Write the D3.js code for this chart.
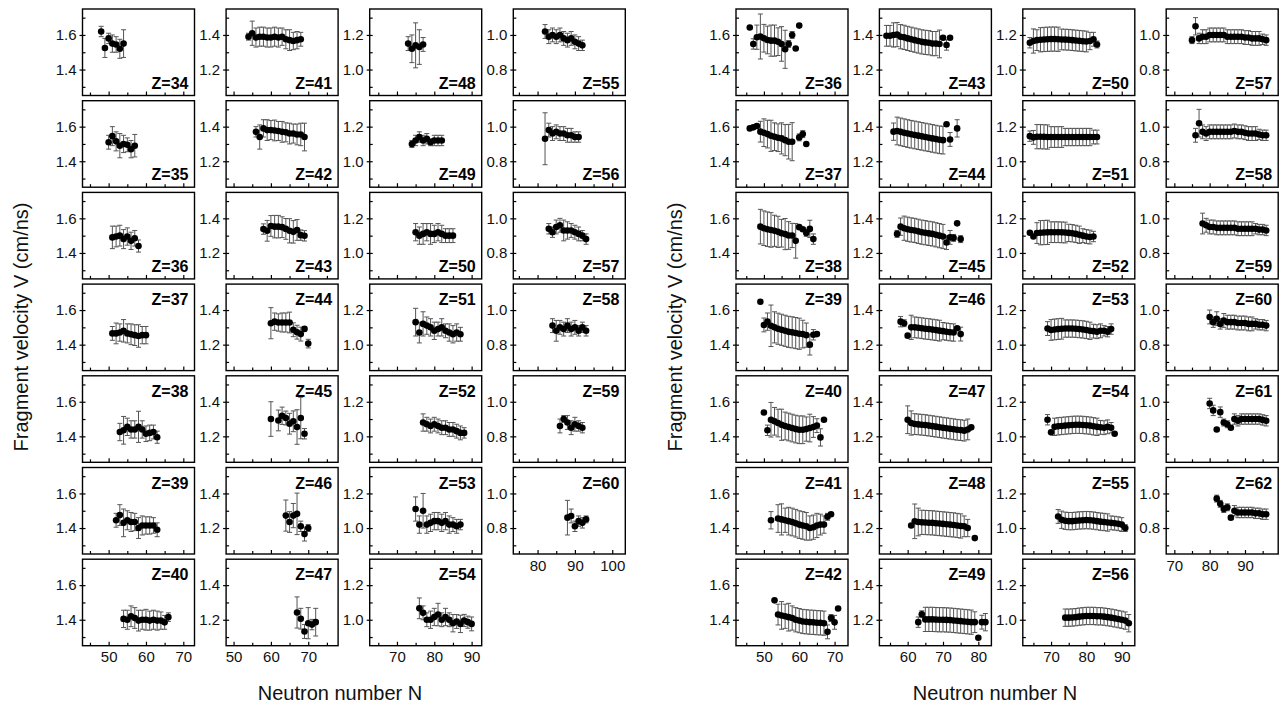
<!DOCTYPE html>
<html><head><meta charset="utf-8">
<script src="https://cdn.jsdelivr.net/npm/d3@7"></script>
<style>body{margin:0;background:#fff} text{font-family:"Liberation Sans",Arial,sans-serif}</style>
</head><body>
<svg id="c" width="1279" height="708"></svg>
<script>
// ---- data: each entry [N, V, error] ----
// Left figure
const L34=[[48,1.62,0.03],[49,1.525,0.055],[50,1.58,0.03],[51,1.55,0.05],[52,1.545,0.045],[53,1.52,0.055],[54,1.55,0.08]];
const L35=[[50,1.51,0.04],[51,1.545,0.055],[52,1.515,0.055],[53,1.49,0.07],[54,1.5,0.05],[55,1.495,0.04],[56,1.47,0.05],[57,1.49,0.065]];
const L36=[[51,1.49,0.065],[52,1.495,0.06],[53,1.5,0.06],[54,1.48,0.055],[55,1.495,0.05],[56,1.47,0.05],[57,1.485,0.045],[58,1.44,0.035]];
const L37=[[51,1.465,0.04],[52,1.465,0.06],[53,1.47,0.05],[54,1.48,0.065],[55,1.465,0.055],[56,1.46,0.06],[57,1.455,0.06],[58,1.45,0.065],[59,1.455,0.05],[60,1.455,0.05]];
const L38=[[53,1.425,0.05],[54,1.435,0.08],[55,1.455,0.05],[56,1.44,0.05],[57,1.44,0.05],[58,1.455,0.09],[59,1.44,0.05],[60,1.415,0.045],[61,1.42,0.045],[62,1.425,0.04],[63,1.395,0.035]];
const L39=[[52,1.445,0.04],[53,1.475,0.06],[54,1.43,0.08],[55,1.445,0.055],[56,1.435,0.055],[57,1.435,0.05],[58,1.4,0.06],[59,1.415,0.055],[60,1.415,0.05],[61,1.415,0.05],[62,1.415,0.045],[63,1.39,0.04]];
const L40=[[54,1.405,0.05],[55,1.4,0.055],[56,1.42,0.06],[57,1.41,0.06],[58,1.395,0.06],[59,1.4,0.055],[60,1.4,0.06],[61,1.395,0.055],[62,1.4,0.055],[63,1.395,0.055],[64,1.395,0.05],[65,1.385,0.04],[66,1.415,0.025]];
const L41=[[54,1.39,0.02],[55,1.41,0.07],[56,1.385,0.055],[57,1.39,0.055],[58,1.39,0.055],[59,1.385,0.055],[60,1.385,0.055],[61,1.39,0.055],[62,1.385,0.055],[63,1.39,0.05],[64,1.375,0.055],[65,1.37,0.06],[66,1.365,0.05],[67,1.37,0.05],[68,1.375,0.04]];
const L42=[[56,1.37,0.03],[57,1.34,0.07],[58,1.39,0.05],[59,1.38,0.06],[60,1.38,0.055],[61,1.378,0.06],[62,1.375,0.055],[63,1.37,0.06],[64,1.367,0.055],[65,1.36,0.06],[66,1.36,0.055],[67,1.355,0.06],[68,1.355,0.065],[69,1.34,0.08]];
const L43=[[58,1.338,0.03],[59,1.328,0.06],[60,1.356,0.06],[61,1.352,0.065],[62,1.352,0.065],[63,1.349,0.06],[64,1.339,0.06],[65,1.328,0.07],[66,1.322,0.065],[67,1.333,0.06],[68,1.303,0.03],[69,1.299,0.03]];
const L44=[[60,1.324,0.09],[61,1.333,0.05],[62,1.328,0.05],[63,1.328,0.055],[64,1.328,0.055],[65,1.328,0.06],[66,1.286,0.04],[67,1.272,0.04],[68,1.261,0.04],[69,1.291,0.012],[70,1.206,0.025]];
const L45=[[60,1.3,0.1],[62,1.292,0.06],[63,1.319,0.05],[64,1.306,0.04],[65,1.273,0.06],[66,1.287,0.06],[67,1.254,0.1],[68,1.306,0.12],[69,1.215,0.03]];
const L46=[[64,1.272,0.09],[65,1.235,0.06],[66,1.272,0.07],[67,1.282,0.12],[68,1.21,0.03],[69,1.165,0.04],[70,1.2,0.02]];
const L47=[[67,1.242,0.09],[68,1.206,0.06],[69,1.132,0.04],[70,1.18,0.09],[71,1.172,0.03],[72,1.186,0.08]];
const L48=[[73,1.15,0.04],[74,1.12,0.08],[75,1.14,0.13],[76,1.13,0.1],[77,1.145,0.04]];
const L49=[[74,1.1,0.02],[75,1.12,0.03],[76,1.14,0.03],[77,1.12,0.03],[78,1.13,0.03],[79,1.11,0.02],[80,1.12,0.03],[81,1.12,0.03],[82,1.12,0.03]];
const L50=[[75,1.12,0.05],[76,1.1,0.05],[77,1.11,0.06],[78,1.12,0.05],[79,1.11,0.06],[80,1.11,0.05],[81,1.12,0.05],[82,1.11,0.05],[83,1.1,0.04],[84,1.1,0.04],[85,1.1,0.04]];
const L51=[[75,1.13,0.08],[76,1.07,0.06],[77,1.12,0.07],[78,1.11,0.05],[79,1.1,0.05],[80,1.08,0.05],[81,1.09,0.04],[82,1.1,0.05],[83,1.08,0.04],[84,1.07,0.05],[85,1.06,0.05],[86,1.07,0.05],[87,1.06,0.04]];
const L52=[[77,1.08,0.05],[78,1.07,0.04],[79,1.06,0.04],[80,1.07,0.04],[81,1.06,0.04],[82,1.05,0.04],[83,1.05,0.04],[84,1.04,0.04],[85,1.04,0.04],[86,1.03,0.04],[87,1.02,0.04],[88,1.02,0.03]];
const L53=[[75,1.11,0.07],[76,1.02,0.05],[77,1.1,0.1],[78,1.02,0.05],[79,1.03,0.05],[80,1.04,0.05],[81,1.04,0.05],[82,1.03,0.05],[83,1.04,0.05],[84,1.02,0.05],[85,1.02,0.04],[86,1.01,0.04],[87,1.02,0.03]];
const L54=[[76,1.066,0.06],[77,1.04,0.04],[78,1.0,0.04],[79,1.0,0.05],[80,1.016,0.05],[81,1.03,0.065],[82,1.0,0.04],[83,1.016,0.05],[84,1.0,0.04],[85,0.98,0.05],[86,0.99,0.04],[87,0.976,0.05],[88,0.996,0.035],[89,0.986,0.035],[90,0.976,0.04]];
const L55=[[82,1.02,0.04],[83,0.99,0.04],[84,1.0,0.04],[85,0.99,0.04],[86,1.0,0.04],[87,0.98,0.04],[88,0.97,0.04],[89,0.98,0.04],[90,0.96,0.04],[91,0.95,0.04],[92,0.94,0.03]];
const L56=[[82,0.93,0.15],[83,0.98,0.04],[84,0.96,0.04],[85,0.97,0.04],[86,0.96,0.04],[87,0.96,0.04],[88,0.95,0.04],[89,0.95,0.04],[90,0.94,0.03],[91,0.94,0.03]];
const L57=[[83,0.94,0.03],[84,0.92,0.03],[85,0.95,0.04],[86,0.96,0.04],[87,0.93,0.06],[88,0.93,0.05],[89,0.93,0.04],[90,0.92,0.04],[91,0.91,0.04],[92,0.9,0.03],[93,0.88,0.03]];
const L58=[[84,0.91,0.04],[85,0.88,0.06],[86,0.9,0.04],[87,0.89,0.04],[88,0.91,0.04],[89,0.89,0.04],[90,0.9,0.04],[91,0.88,0.03],[92,0.9,0.03],[93,0.88,0.03]];
const L59=[[86,0.86,0.04],[87,0.9,0.02],[88,0.88,0.04],[89,0.85,0.04],[90,0.87,0.04],[91,0.86,0.03],[92,0.85,0.03]];
const L60=[[88,0.86,0.1],[89,0.87,0.04],[90,0.81,0.03],[91,0.84,0.03],[92,0.83,0.03],[93,0.85,0.02]];
// Right figure
const R36=[[46,1.643,0],[47,1.548,0.03],[48,1.587,0.07],[49,1.591,0.13],[50,1.581,0.08],[51,1.571,0.08],[52,1.567,0.09],[53,1.567,0.09],[54,1.561,0.08],[55,1.548,0.1],[56,1.517,0.11],[57,1.548,0.02],[58,1.6,0.02],[59,1.522,0],[60,1.654,0]];
const R37=[[46,1.59,0.01],[47,1.596,0.01],[48,1.604,0.01],[49,1.571,0.06],[50,1.565,0.08],[51,1.557,0.08],[52,1.547,0.09],[53,1.542,0.08],[54,1.536,0.08],[55,1.532,0.09],[56,1.522,0.09],[57,1.513,0.1],[58,1.513,0.11],[60,1.538,0.02],[61,1.557,0.02],[62,1.5,0]];
const R38=[[49,1.552,0.1],[50,1.543,0.1],[51,1.537,0.1],[52,1.533,0.1],[53,1.528,0.09],[54,1.522,0.09],[55,1.514,0.08],[56,1.509,0.09],[57,1.501,0.08],[58,1.501,0.07],[59,1.47,0.1],[60,1.549,0.01],[61,1.537,0.01],[62,1.516,0.02],[63,1.539,0.05],[64,1.48,0.03]];
const R39=[[49,1.648,0],[50,1.514,0.04],[51,1.533,0.05],[52,1.509,0.12],[53,1.5,0.09],[54,1.492,0.09],[55,1.486,0.09],[56,1.48,0.09],[57,1.474,0.09],[58,1.471,0.09],[59,1.467,0.09],[60,1.463,0.09],[61,1.461,0.08],[62,1.455,0.07],[63,1.4,0.06],[64,1.457,0.03],[65,1.461,0.01]];
const R40=[[50,1.538,0],[51,1.435,0.03],[52,1.496,0.1],[53,1.487,0.08],[54,1.477,0.08],[55,1.467,0.09],[56,1.46,0.08],[57,1.454,0.08],[58,1.448,0.08],[59,1.442,0.08],[60,1.438,0.08],[61,1.438,0.08],[62,1.442,0.07],[63,1.448,0.08],[64,1.454,0.06],[65,1.462,0.04],[66,1.394,0.05],[67,1.496,0]];
const R41=[[52,1.445,0.05],[54,1.455,0.08],[55,1.45,0.09],[56,1.445,0.07],[57,1.44,0.08],[58,1.435,0.08],[59,1.428,0.08],[60,1.42,0.08],[61,1.415,0.08],[62,1.41,0.08],[63,1.4,0.07],[64,1.405,0.07],[65,1.415,0.07],[66,1.42,0.06],[67,1.42,0.05],[68,1.465,0.02],[69,1.48,0.01]];
const R42=[[53,1.512,0.01],[54,1.43,0.06],[55,1.425,0.08],[56,1.42,0.07],[57,1.415,0.08],[58,1.41,0.07],[59,1.4,0.07],[60,1.395,0.07],[61,1.39,0.07],[62,1.388,0.07],[63,1.386,0.07],[64,1.385,0.07],[65,1.383,0.07],[66,1.382,0.07],[67,1.38,0.07],[68,1.33,0.04],[69,1.41,0.02],[70,1.385,0.04],[71,1.465,0]];
const R43=[[54,1.395,0.06],[55,1.395,0.06],[56,1.4,0.07],[57,1.402,0.07],[58,1.39,0.07],[59,1.386,0.07],[60,1.38,0.07],[61,1.375,0.07],[62,1.37,0.07],[63,1.365,0.07],[64,1.36,0.07],[65,1.357,0.07],[66,1.355,0.07],[67,1.35,0.07],[68,1.35,0.07],[69,1.348,0.08],[70,1.384,0.01],[71,1.342,0.03],[72,1.384,0]];
const R44=[[56,1.371,0.05],[57,1.375,0.08],[58,1.37,0.08],[59,1.365,0.08],[60,1.36,0.08],[61,1.356,0.08],[62,1.352,0.08],[63,1.348,0.08],[64,1.344,0.08],[65,1.34,0.08],[66,1.336,0.08],[67,1.332,0.08],[68,1.328,0.08],[69,1.324,0.08],[70,1.322,0.08],[71,1.414,0],[72,1.326,0.04],[74,1.39,0.05]];
const R45=[[57,1.31,0.02],[58,1.352,0.05],[59,1.343,0.07],[60,1.337,0.07],[61,1.333,0.07],[62,1.33,0.07],[63,1.325,0.07],[64,1.32,0.07],[65,1.317,0.07],[66,1.313,0.07],[67,1.31,0.07],[68,1.305,0.07],[69,1.3,0.07],[70,1.295,0.07],[71,1.26,0.04],[72,1.29,0.04],[73,1.287,0.02],[74,1.371,0],[75,1.28,0.02]];
const R46=[[58,1.333,0.03],[59,1.324,0.02],[60,1.252,0.01],[61,1.3,0.07],[62,1.3,0.06],[63,1.298,0.06],[64,1.295,0.06],[65,1.292,0.06],[66,1.29,0.06],[67,1.287,0.06],[68,1.284,0.06],[69,1.281,0.06],[70,1.278,0.05],[71,1.275,0.05],[72,1.272,0.05],[73,1.27,0.05],[74,1.295,0.01],[75,1.261,0.04]];
const R47=[[60,1.296,0.08],[61,1.277,0.07],[62,1.271,0.06],[63,1.269,0.06],[64,1.267,0.06],[65,1.265,0.06],[66,1.262,0.06],[67,1.259,0.06],[68,1.256,0.06],[69,1.253,0.06],[70,1.25,0.06],[71,1.247,0.06],[72,1.244,0.06],[73,1.241,0.06],[74,1.238,0.06],[75,1.236,0.06],[76,1.233,0.06],[77,1.24,0.06],[78,1.252,0.01]];
const R48=[[61,1.215,0.01],[62,1.239,0.1],[63,1.235,0.08],[64,1.233,0.07],[65,1.232,0.07],[66,1.231,0.07],[67,1.23,0.07],[68,1.228,0.07],[69,1.226,0.07],[70,1.224,0.07],[71,1.222,0.07],[72,1.22,0.07],[73,1.218,0.07],[74,1.215,0.07],[75,1.212,0.07],[76,1.21,0.06],[77,1.2,0.05],[79,1.142,0]];
const R49=[[63,1.186,0.03],[64,1.232,0.02],[65,1.202,0.07],[66,1.202,0.07],[67,1.202,0.07],[68,1.201,0.07],[69,1.2,0.07],[70,1.2,0.07],[71,1.199,0.07],[72,1.198,0.07],[73,1.196,0.07],[74,1.194,0.07],[75,1.192,0.07],[76,1.19,0.07],[77,1.188,0.07],[78,1.186,0.07],[79,1.186,0.06],[80,1.096,0],[81,1.186,0.04],[82,1.186,0.05]];
const R50=[[64,1.155,0.03],[65,1.165,0.07],[66,1.17,0.06],[67,1.172,0.07],[68,1.174,0.07],[69,1.175,0.07],[70,1.176,0.07],[71,1.176,0.07],[72,1.175,0.07],[73,1.174,0.06],[74,1.173,0.06],[75,1.172,0.06],[76,1.17,0.06],[77,1.168,0.06],[78,1.166,0.06],[79,1.164,0.06],[80,1.162,0.06],[81,1.165,0.05],[82,1.175,0.04],[83,1.145,0.02]];
const R51=[[64,1.145,0.03],[65,1.138,0.04],[66,1.142,0.07],[67,1.142,0.07],[68,1.141,0.07],[69,1.14,0.07],[70,1.14,0.06],[71,1.14,0.06],[72,1.14,0.06],[73,1.14,0.06],[74,1.14,0.05],[75,1.14,0.05],[76,1.14,0.05],[77,1.14,0.05],[78,1.14,0.05],[79,1.14,0.05],[80,1.14,0.05],[81,1.14,0.05],[82,1.14,0.04],[83,1.14,0.04]];
const R52=[[64,1.117,0],[65,1.095,0.01],[66,1.115,0.06],[67,1.117,0.07],[68,1.118,0.07],[69,1.119,0.07],[70,1.12,0.06],[71,1.12,0.06],[72,1.12,0.06],[73,1.119,0.06],[74,1.118,0.06],[75,1.116,0.05],[76,1.114,0.05],[77,1.11,0.05],[78,1.105,0.05],[79,1.1,0.04],[80,1.095,0.04],[81,1.092,0.04],[82,1.095,0.03]];
const R53=[[69,1.093,0.04],[70,1.085,0.06],[71,1.088,0.06],[72,1.09,0.06],[73,1.092,0.06],[74,1.093,0.05],[75,1.093,0.05],[76,1.093,0.05],[77,1.092,0.05],[78,1.09,0.05],[79,1.088,0.05],[80,1.085,0.05],[81,1.08,0.05],[82,1.078,0.04],[83,1.075,0.04],[84,1.08,0.04],[85,1.08,0.03],[86,1.075,0.03],[87,1.09,0.03]];
const R54=[[69,1.096,0.03],[70,1.023,0],[71,1.055,0.05],[72,1.058,0.05],[73,1.06,0.05],[74,1.062,0.05],[75,1.064,0.05],[76,1.066,0.05],[77,1.067,0.05],[78,1.067,0.05],[79,1.066,0.05],[80,1.064,0.05],[81,1.062,0.05],[82,1.058,0.05],[83,1.055,0.05],[84,1.052,0.04],[85,1.05,0.04],[86,1.055,0.04],[87,1.05,0.03],[88,1.015,0]];
const R55=[[72,1.067,0.04],[73,1.048,0.05],[74,1.042,0.05],[75,1.04,0.05],[76,1.04,0.05],[77,1.042,0.05],[78,1.044,0.05],[79,1.045,0.05],[80,1.046,0.05],[81,1.045,0.05],[82,1.043,0.05],[83,1.04,0.05],[84,1.037,0.05],[85,1.035,0.05],[86,1.032,0.05],[87,1.03,0.04],[88,1.028,0.04],[89,1.025,0.04],[90,1.02,0.04],[91,1.0,0.02]];
const R56=[[74,1.012,0.05],[75,1.012,0.05],[76,1.013,0.05],[77,1.015,0.05],[78,1.018,0.05],[79,1.02,0.05],[80,1.022,0.05],[81,1.022,0.05],[82,1.022,0.05],[83,1.02,0.05],[84,1.02,0.05],[85,1.018,0.05],[86,1.015,0.05],[87,1.012,0.05],[88,1.008,0.05],[89,1.004,0.05],[90,1.0,0.05],[91,0.995,0.05],[92,0.98,0.05]];
const R57=[[75,0.97,0.02],[76,1.05,0.05],[77,0.98,0.03],[78,0.99,0.04],[79,0.99,0.04],[80,1.0,0.04],[81,1.0,0.04],[82,1.0,0.04],[83,1.0,0.04],[84,1.0,0.04],[85,0.99,0.04],[86,0.99,0.04],[87,0.99,0.04],[88,0.99,0.04],[89,0.99,0.04],[90,0.985,0.04],[91,0.985,0.04],[92,0.98,0.04],[93,0.98,0.04],[94,0.98,0.04],[95,0.975,0.03],[96,0.97,0.03]];
const R58=[[76,0.95,0.04],[77,1.02,0.08],[78,0.97,0.04],[79,0.96,0.04],[80,0.97,0.04],[81,0.97,0.04],[82,0.97,0.04],[83,0.97,0.04],[84,0.97,0.04],[85,0.97,0.04],[86,0.97,0.04],[87,0.975,0.04],[88,0.97,0.04],[89,0.97,0.04],[90,0.965,0.04],[91,0.96,0.04],[92,0.96,0.04],[93,0.96,0.04],[94,0.955,0.03],[95,0.95,0.03],[96,0.95,0.03]];
const R59=[[78,0.97,0.06],[79,0.96,0.04],[80,0.95,0.04],[81,0.95,0.04],[82,0.945,0.04],[83,0.945,0.04],[84,0.945,0.04],[85,0.945,0.04],[86,0.945,0.04],[87,0.945,0.04],[88,0.94,0.04],[89,0.94,0.04],[90,0.94,0.04],[91,0.94,0.04],[92,0.94,0.04],[93,0.94,0.03],[94,0.935,0.03],[95,0.935,0.03],[96,0.93,0.03]];
const R60=[[80,0.96,0.04],[81,0.93,0.03],[82,0.95,0.04],[83,0.92,0.03],[84,0.94,0.04],[85,0.93,0.04],[86,0.93,0.04],[87,0.93,0.04],[88,0.925,0.04],[89,0.925,0.04],[90,0.925,0.04],[91,0.92,0.04],[92,0.92,0.04],[93,0.92,0.03],[94,0.915,0.03],[95,0.915,0.03],[96,0.91,0.03]];
const R61=[[80,0.99,0.03],[81,0.95,0.03],[82,0.84,0.01],[83,0.94,0.03],[84,0.88,0.02],[85,0.87,0.02],[86,0.85,0.01],[87,0.9,0.03],[88,0.89,0.03],[89,0.9,0.03],[90,0.9,0.03],[91,0.9,0.03],[92,0.9,0.03],[93,0.9,0.03],[94,0.9,0.03],[95,0.895,0.03],[96,0.89,0.03]];
const R62=[[82,0.97,0.02],[83,0.94,0.02],[84,0.91,0.02],[85,0.92,0.02],[86,0.86,0.01],[87,0.9,0.03],[88,0.89,0.03],[89,0.89,0.03],[90,0.89,0.03],[91,0.89,0.03],[92,0.89,0.03],[93,0.885,0.03],[94,0.885,0.03],[95,0.88,0.03],[96,0.88,0.03]];

// Z lists per column
const leftZ=[[34,35,36,37,38,39,40],[41,42,43,44,45,46,47],[48,49,50,51,52,53,54],[55,56,57,58,59,60]];
const rightZ=[[36,37,38,39,40,41,42],[43,44,45,46,47,48,49],[50,51,52,53,54,55,56],[57,58,59,60,61,62]];
const leftData={34:L34,35:L35,36:L36,37:L37,38:L38,39:L39,40:L40,41:L41,42:L42,43:L43,44:L44,45:L45,46:L46,47:L47,48:L48,49:L49,50:L50,51:L51,52:L52,53:L53,54:L54,55:L55,56:L56,57:L57,58:L58,59:L59,60:L60};
const rightData={36:R36,37:R37,38:R38,39:R39,40:R40,41:R41,42:R42,43:R43,44:R44,45:R45,46:R46,47:R47,48:R48,49:R49,50:R50,51:R51,52:R52,53:R53,54:R54,55:R55,56:R56,57:R57,58:R58,59:R59,60:R60,61:R61,62:R62};

// axis ticks
const yMajor=[[1.4,1.6],[1.2,1.4],[1.0,1.2],[0.8,1.0]];
const yMinor=[[1.3,1.5,1.7],[1.1,1.3,1.5],[0.9,1.1,1.3],[0.7,0.9,1.1]];
const yDom=[[1.25,1.75],[1.05,1.55],[0.85,1.35],[0.65,1.15]];
const leftXDom=[[43,73],[48,78],[62.7,92.7],[73.5,103.5]];
const leftXMajor=[[50,60,70],[50,60,70],[70,80,90],[80,90,100]];
const rightXDom=[[42.1,73.8],[52,83.7],[62,93.7],[67.7,99.4]];
const rightXMajor=[[50,60,70],[60,70,80],[70,80,90],[70,80,90]];

const svg=d3.select("#c");
const W=112, H=86.5, rowStep=91.7, top0=9;

function drawFigure(x0, colStep, zCols, dataMap, xDoms, xMaj, titleX, nLabelX){
  zCols.forEach((zs,c)=>{
    const x=d3.scaleLinear().domain(xDoms[c]).range([0,W]);
    const y=d3.scaleLinear().domain(yDom[c]).range([H,0]);
    const xMinor=xMaj[c].map(v=>v-5).concat([xMaj[c][2]+5]).filter(v=>v>xDoms[c][0]&&v<xDoms[c][1]);
    zs.forEach((z,r)=>{
      const g=svg.append("g").attr("transform",`translate(${x0+c*colStep},${top0+r*rowStep})`);
      const last=(r===zs.length-1);
      const ya=g.append("g").call(d3.axisLeft(y).tickValues(yMajor[c]).tickSize(3).tickFormat(d3.format(".1f")));
      ya.select(".domain").remove();
      ya.selectAll("text").attr("x",-6).style("font-size","15px").style("font-family","Liberation Sans, Arial, sans-serif").attr("fill","#111");
      ya.selectAll("line").attr("stroke","#000").attr("stroke-width",1.2);
      const yi=g.append("g").call(d3.axisRight(y).tickValues(yMajor[c].concat(yMinor[c]).filter(v=>v>yDom[c][0]&&v<yDom[c][1])).tickSize(3).tickFormat(""));
      yi.select(".domain").remove(); yi.selectAll("line").attr("stroke","#000").attr("stroke-width",1.2);
      const xi=g.append("g").attr("transform",`translate(0,${H})`).call(d3.axisTop(x).tickValues(xMaj[c]).tickSize(4).tickFormat(""));
      xi.select(".domain").remove(); xi.selectAll("line").attr("stroke","#000").attr("stroke-width",1.2);
      const xm=g.append("g").attr("transform",`translate(0,${H})`).call(d3.axisTop(x).tickValues(xMinor).tickSize(3).tickFormat(""));
      xm.select(".domain").remove(); xm.selectAll("line").attr("stroke","#000").attr("stroke-width",1.2);
      if(last){
        const xl=g.append("g").attr("transform",`translate(0,${H})`).call(d3.axisBottom(x).tickValues(xMaj[c]).tickSize(0).tickPadding(6).tickFormat(d3.format("d")));
        xl.select(".domain").remove();
        xl.selectAll("text").style("font-size","15px").style("font-family","Liberation Sans, Arial, sans-serif").attr("fill","#111");
      }
      const d=dataMap[z];
      const eb=g.append("g").attr("stroke","#555").attr("stroke-width",1);
      d.filter(p=>p[2]>0).forEach(p=>{
        const px=x(p[0]), y1=y(p[1]-p[2]), y2=y(p[1]+p[2]);
        eb.append("line").attr("x1",px).attr("x2",px).attr("y1",y1).attr("y2",y2);
        eb.append("line").attr("x1",px-2.5).attr("x2",px+2.5).attr("y1",y1).attr("y2",y1);
        eb.append("line").attr("x1",px-2.5).attr("x2",px+2.5).attr("y1",y2).attr("y2",y2);
      });
      g.append("g").selectAll("circle").data(d).join("circle")
        .attr("cx",p=>x(p[0])).attr("cy",p=>y(p[1])).attr("r",3.3).attr("fill","#000");
      g.append("rect").attr("width",W).attr("height",H).attr("fill","none").attr("stroke","#000").attr("stroke-width",1.4);
      const topLab=r>=3;
      g.append("text").attr("x",W-6).attr("y",topLab?21:H-7).attr("text-anchor","end")
        .style("font-size","16px").style("font-weight","bold").text("Z="+z);
    });
  });
  svg.append("text").attr("transform",`translate(${titleX},327) rotate(-90)`).attr("text-anchor","middle")
    .style("font-size","20px").attr("fill","#111").text("Fragment velocity V (cm/ns)");
  svg.append("text").attr("x",nLabelX).attr("y",700).attr("text-anchor","middle")
    .style("font-size","20px").attr("fill","#111").text("Neutron number N");
}
drawFigure(82.5,143.6,leftZ,leftData,leftXDom,leftXMajor,28,340);
drawFigure(736,143.4,rightZ,rightData,rightXDom,rightXMajor,682,995);
</script>
</body></html>
